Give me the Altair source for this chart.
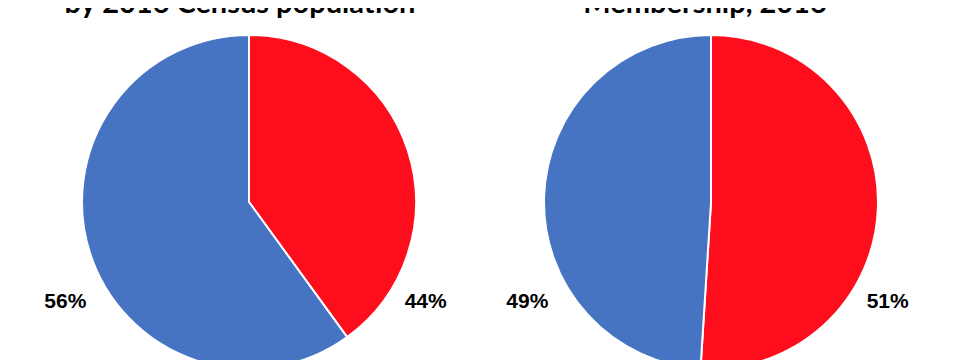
import altair as alt
import pandas as pd

groups = ["Red", "Blue"]
colors = ["#FE0D1D", "#4673C2"]

left_title = "by 2016 Census population"
left_shares = [40, 60]
left_labels = ["44%", "56%"]

right_title = "Membership, 2016"
right_shares = [51, 49]
right_labels = ["51%", "49%"]

# label placement (angle in radians, radius in px) for the red / blue label
label_theta = [2.086, 4.215]
label_radius = [203, 209]


def pie(shares, labels, title, width, title_dx):
    df = pd.DataFrame({"group": groups, "share": shares, "label": labels, "order": [0, 1]})
    base = alt.Chart(df)
    arcs = base.mark_arc(radius=167, stroke="white", strokeWidth=2).encode(
        theta=alt.Theta("share:Q", stack=True),
        color=alt.Color("group:N", scale=alt.Scale(domain=groups, range=colors), legend=None),
        order=alt.Order("order:Q"),
    )
    texts = [
        base.transform_filter(alt.datum.group == g)
        .mark_text(theta=t, radius=r, font="Liberation Sans", fontWeight="bold", fontSize=21, color="black")
        .encode(text="label:N")
        for g, t, r in zip(groups, label_theta, label_radius)
    ]
    head = alt.Chart(pd.DataFrame({"title": [title]})).mark_text(
        font="Lato", fontSize=29, fontWeight="bold", color="black",
        baseline="alphabetic", dx=title_dx, clip=True,
    ).encode(text="title:N", y=alt.value(5))
    return alt.layer(arcs, *texts, head).properties(width=width, height=388)


left = pie(left_shares, left_labels, left_title, 482, -9)
right = pie(right_shares, right_labels, right_title, 442, -6)

chart = alt.hconcat(left, right, spacing=0).properties(padding=0).configure(
    background="white", view=alt.ViewConfig(strokeWidth=0, stroke="transparent")
)

chart.save("out.html", embed_options={"renderer": "svg", "actions": False})
